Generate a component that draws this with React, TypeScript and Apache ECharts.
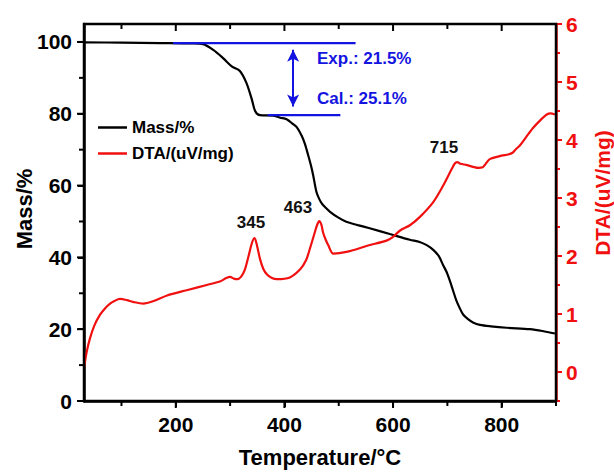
import React, { useEffect, useRef } from "react";
import * as echarts from "echarts";

// ---- data ----
const massT = [31, 100, 171, 230, 250, 269, 287, 303, 318, 330, 340, 346, 355, 379, 392, 404, 416, 423, 432, 438, 444, 449, 453, 459, 464, 469, 476, 484, 498, 514, 535, 557, 594, 631, 649, 662, 674, 684, 692, 699, 705, 711, 717, 723, 729, 738, 748, 760, 780, 809, 852, 875, 898];
const massV = [99.9, 99.8, 99.7, 99.6, 99.4, 97.8, 95.5, 93.2, 91.9, 88.6, 84.0, 80.8, 79.6, 79.5, 78.9, 78.5, 77.1, 76.2, 73.8, 71.5, 68.3, 65.5, 62.8, 58.2, 56.3, 55.0, 53.8, 52.7, 51.2, 49.9, 49.0, 48.1, 46.5, 44.9, 44.3, 43.4, 42.1, 40.4, 37.9, 35.8, 33.3, 30.5, 27.8, 25.8, 24.1, 22.8, 21.8, 21.2, 20.8, 20.4, 20.0, 19.5, 18.8];

const dtaT = [31, 36, 42, 50, 60, 70, 79, 88, 97, 110, 121, 140, 158, 184, 220, 257, 281, 293, 300, 307, 313, 320, 327, 334, 340, 345, 350, 355, 361, 368, 377, 386, 410, 429, 440, 447, 456, 460, 464, 468, 471, 476, 481, 490, 514, 554, 589, 600, 613, 631, 649, 674, 692, 708, 714, 718, 724, 735, 757, 765, 769, 778, 800, 812, 820, 827, 833, 845, 858, 870, 883, 890, 898];
const dtaV = [0.07, 0.35, 0.58, 0.8, 0.98, 1.1, 1.18, 1.23, 1.26, 1.24, 1.21, 1.18, 1.22, 1.32, 1.41, 1.5, 1.56, 1.62, 1.64, 1.61, 1.6, 1.64, 1.76, 2.0, 2.22, 2.31, 2.16, 1.95, 1.78, 1.68, 1.62, 1.6, 1.63, 1.77, 1.93, 2.13, 2.41, 2.53, 2.6, 2.54, 2.41, 2.28, 2.18, 2.04, 2.07, 2.18, 2.27, 2.33, 2.44, 2.53, 2.67, 2.93, 3.21, 3.5, 3.6, 3.62, 3.59, 3.57, 3.52, 3.53, 3.57, 3.67, 3.73, 3.75, 3.78, 3.85, 3.9, 4.05, 4.21, 4.33, 4.44, 4.46, 4.44];

const expLineT = [195, 531];
const expLineV = [99.7, 99.7];
const calLineT = [369, 503];
const calLineV = [79.6, 79.6];
const arrowT = 416;
const arrowV = [97.8, 82.0];

const X_MIN = 31;
const X_MAX = 900;
const MASS_MIN = 0;
const MASS_MAX = 105;
const xMajor = [200, 400, 600, 800];
const xMinor = [100, 300, 500, 700, 900];
const massMajor = [0, 20, 40, 60, 80, 100];
const massMinor = [10, 30, 50, 70, 90];
const dtaMajor = [0, 1, 2, 3, 4, 5, 6];
const dtaMinor = [-0.5, 0.5, 1.5, 2.5, 3.5, 4.5, 5.5];

const peakLabels = ["345", "463", "715"];
const annotations = ["Exp.: 21.5%", "Cal.: 25.1%"];

const FONT = "'Liberation Sans', Arial, sans-serif";
const RED = "#f01010";
const BLUE = "#1414e0";
const BLACK = "#000000";

const zip = (a: number[], b: number[]) => a.map((x, i) => [x, b[i]]);

export default function App() {
  const ref = useRef<HTMLDivElement>(null);
  useEffect(() => {
    if (!ref.current) return;
    const chart = echarts.init(ref.current, undefined, { renderer: "svg" });
    const lbl = { fontFamily: FONT, fontWeight: "bold", fontSize: 21 };
    const texts: any[] = [
      { type: "text", x: 317, y: 58, style: { text: annotations[0], fill: BLUE, font: `bold 17px ${FONT}`, align: "left", verticalAlign: "middle" } },
      { type: "text", x: 317, y: 98, style: { text: annotations[1], fill: BLUE, font: `bold 17px ${FONT}`, align: "left", verticalAlign: "middle" } },
      { type: "text", x: 251, y: 222, style: { text: peakLabels[0], fill: "#111", font: `bold 17px ${FONT}`, align: "center", verticalAlign: "middle" } },
      { type: "text", x: 298, y: 207, style: { text: peakLabels[1], fill: "#111", font: `bold 17px ${FONT}`, align: "center", verticalAlign: "middle" } },
      { type: "text", x: 444, y: 147, style: { text: peakLabels[2], fill: "#111", font: `bold 17px ${FONT}`, align: "center", verticalAlign: "middle" } },
      { type: "text", x: 24, y: 209, rotation: Math.PI / 2, style: { text: "Mass/%", fill: "#000", font: `bold 22px ${FONT}`, align: "center", verticalAlign: "middle" } },
      { type: "text", x: 602, y: 193, rotation: Math.PI / 2, style: { text: "DTA/(uV/mg)", fill: RED, font: `bold 21px ${FONT}`, align: "center", verticalAlign: "middle" } },
    ];
    const option: any = {
      animation: false,
      textStyle: { fontFamily: FONT },
      grid: { left: 84, right: 58, top: 24, bottom: 69 },
      xAxis: [
        {
          type: "value",
          min: X_MIN,
          max: X_MAX,
          position: "bottom",
          splitLine: { show: false },
          axisLine: { show: true, onZero: false, lineStyle: { color: BLACK, width: 2.5 } },
          axisTick: { show: true, customValues: xMajor, length: 6, lineStyle: { width: 2, color: BLACK } },
          axisLabel: { customValues: xMajor, margin: 13, color: "#000", ...lbl },
          name: "Temperature/°C",
          nameLocation: "middle",
          nameGap: 45,
          nameTextStyle: { color: "#000", fontFamily: FONT, fontWeight: "bold", fontSize: 22 },
        },
      ],
      yAxis: [
        {
          type: "value",
          min: MASS_MIN,
          max: MASS_MAX,
          position: "left",
          splitLine: { show: false },
          axisLine: { show: true, onZero: false, lineStyle: { color: BLACK, width: 2.5 } },
          axisTick: { show: true, customValues: massMajor, length: 6, lineStyle: { width: 2, color: BLACK } },
          axisLabel: { customValues: massMajor, margin: 12, color: "#000", ...lbl },
        },
        {
          type: "value",
          min: -0.5,
          max: 6,
          position: "right",
          splitLine: { show: false },
          axisLine: { show: true, onZero: false, lineStyle: { color: RED, width: 2.5 } },
          axisTick: { show: true, customValues: dtaMajor, length: 6, lineStyle: { width: 2, color: RED } },
          axisLabel: { customValues: dtaMajor, margin: 10, color: RED, ...lbl },
        },
        {
          type: "value",
          min: -0.5,
          max: 6,
          position: "right",
          splitLine: { show: false },
          axisLine: { show: false, onZero: false },
          axisTick: { show: true, customValues: dtaMinor, length: 4, lineStyle: { width: 2, color: RED } },
          axisLabel: { show: false },
        },
      ],
      legend: {
        data: ["Mass/%", "DTA/(uV/mg)"],
        orient: "vertical",
        left: 93,
        top: 114,
        itemWidth: 29,
        itemHeight: 2.5,
        itemGap: 9,
        icon: "rect",
        textStyle: { color: "#000", fontFamily: FONT, fontWeight: "bold", fontSize: 17 },
      },
      series: [
        {
          name: "Mass/%",
          type: "line",
          xAxisIndex: 0,
          yAxisIndex: 0,
          data: zip(massT, massV),
          showSymbol: false,
          smooth: 0.3,
          lineStyle: { color: "#000", width: 2.2 },
          itemStyle: { color: "#000" },
        },
        {
          name: "DTA/(uV/mg)",
          type: "line",
          xAxisIndex: 0,
          yAxisIndex: 1,
          data: zip(dtaT, dtaV),
          showSymbol: false,
          smooth: 0.3,
          lineStyle: { color: RED, width: 2.2 },
          itemStyle: { color: RED },
        },
        {
          name: "exp",
          type: "line",
          xAxisIndex: 0,
          yAxisIndex: 0,
          data: zip(expLineT, expLineV),
          showSymbol: false,
          lineStyle: { color: BLUE, width: 2.2 },
          markLine: {
            silent: true,
            symbol: ["arrow", "arrow"],
            symbolSize: [9, 12],
            label: { show: false },
            lineStyle: { color: BLUE, width: 2, type: "solid" },
            data: [[{ coord: [arrowT, arrowV[0]] }, { coord: [arrowT, arrowV[1]] }]],
          },
        },
        {
          name: "cal",
          type: "line",
          xAxisIndex: 0,
          yAxisIndex: 0,
          data: zip(calLineT, calLineV),
          showSymbol: false,
          lineStyle: { color: BLUE, width: 2.2 },
        },
      ],
      graphic: { elements: texts },
    };
    chart.setOption(option);

    // Black frame (as a rect) and ticks, positioned through the chart's own scales.
    const px = (x: number, y: number) => chart.convertToPixel({ xAxisIndex: 0, yAxisIndex: 0 }, [x, y]) as number[];
    const [gx0, gy0] = px(X_MIN, MASS_MIN);
    const [gx1, gy1] = px(X_MAX, MASS_MAX);
    const tick = (x1: number, y1: number, x2: number, y2: number) => ({
      type: "rect",
      z: 100,
      silent: true,
      shape: { x: Math.min(x1, x2) - 1, y: Math.min(y1, y2) - 1, width: Math.abs(x2 - x1) + 2, height: Math.abs(y2 - y1) + 2 },
      style: { fill: BLACK },
    });
    const frame: any[] = [
      {
        type: "rect",
        z: 100,
        silent: true,
        shape: { x: gx0, y: gy1, width: gx1 - gx0, height: gy0 - gy1 },
        style: { fill: "none", stroke: BLACK, lineWidth: 2.5 },
      },
    ];
    xMajor.forEach((v) => {
      const X = px(v, MASS_MIN)[0];
      frame.push(tick(X, gy0, X, gy0 + 6));
      frame.push(tick(X, gy1, X, gy1 + 6));
    });
    xMinor.forEach((v) => {
      const X = px(v, MASS_MIN)[0];
      frame.push(tick(X, gy0, X, gy0 + 4));
      frame.push(tick(X, gy1, X, gy1 + 4));
    });
    massMajor.forEach((v) => {
      const Y = px(X_MIN, v)[1];
      frame.push(tick(gx0 - 6, Y, gx0, Y));
    });
    massMinor.forEach((v) => {
      const Y = px(X_MIN, v)[1];
      frame.push(tick(gx0 - 4, Y, gx0, Y));
    });
    chart.setOption({ graphic: { elements: [...texts, ...frame] } });
    return () => chart.dispose();
  }, []);
  return <div ref={ref} style={{ position: "fixed", left: 0, top: 0, width: 614, height: 473, background: "#fff" }} />;
}
